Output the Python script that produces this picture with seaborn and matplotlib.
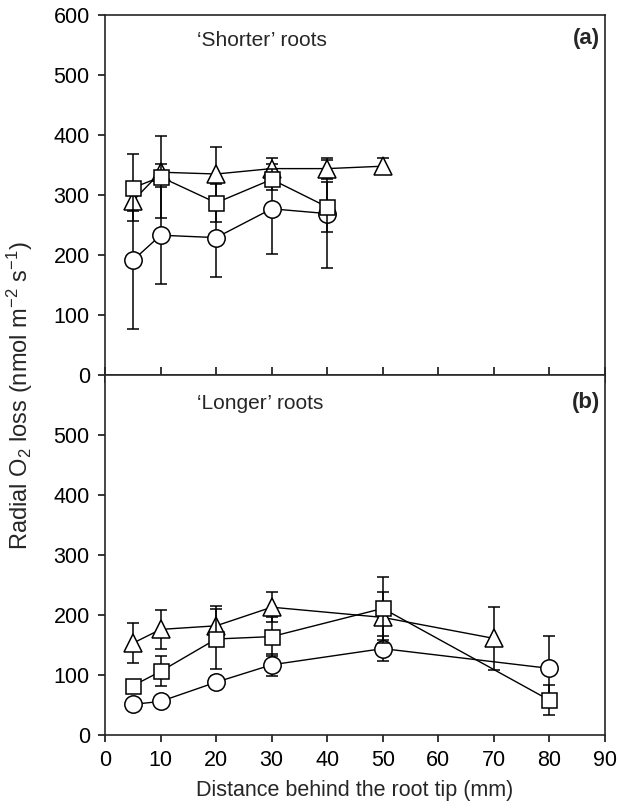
import numpy as np
import matplotlib
matplotlib.use("Agg")
import matplotlib.pyplot as plt
import pandas as pd
import seaborn as sns

# panel (a) 'Shorter' roots
a_circ_x = [5, 10, 20, 30, 40]
a_circ_y = [191, 233, 229, 277, 269]
a_circ_e = [115, 81, 66, 75, 90]
a_sq_x = [5, 10, 20, 30, 40]
a_sq_y = [312, 330, 287, 326, 280]
a_sq_e = [56, 69, 32, 17, 42]
a_tri_x = [5, 10, 20, 30, 40, 50]
a_tri_y = [290, 338, 335, 344, 344, 348]
a_tri_e = [17, 14, 45, 18, 18, 13]

# panel (b) 'Longer' roots
b_circ_x = [5, 10, 20, 30, 50, 80]
b_circ_y = [51, 56, 88, 117, 144, 111]
b_circ_e = [6, 6, 10, 18, 21, 54]
b_sq_x = [5, 10, 20, 30, 50, 80]
b_sq_y = [82, 106, 160, 164, 211, 58]
b_sq_e = [8, 25, 50, 32, 53, 25]
b_tri_x = [5, 10, 20, 30, 50, 70]
b_tri_y = [153, 176, 182, 213, 196, 161]
b_tri_e = [33, 33, 33, 25, 42, 52]

x_ticks = [0, 10, 20, 30, 40, 50, 60, 70, 80, 90]

sns.set_style("ticks")
plt.rcParams['font.family'] = ['Liberation Sans', 'DejaVu Sans']
plt.rcParams['mathtext.fontset'] = 'custom'
plt.rcParams['mathtext.rm'] = 'Liberation Sans'
plt.rcParams['mathtext.it'] = 'Liberation Sans'

FS = 15.5

def make_df(sets):
    rows = []
    for name, xs, ys, es in sets:
        for x, y, e in zip(xs, ys, es):
            rows.append({'series': name, 'x': x, 'y': y, 'err': e})
    return pd.DataFrame(rows)

df_a = make_df([('circle', a_circ_x, a_circ_y, a_circ_e),
                ('triangle', a_tri_x, a_tri_y, a_tri_e),
                ('square', a_sq_x, a_sq_y, a_sq_e)])
df_b = make_df([('circle', b_circ_x, b_circ_y, b_circ_e),
                ('triangle', b_tri_x, b_tri_y, b_tri_e),
                ('square', b_sq_x, b_sq_y, b_sq_e)])

markers = {'circle': 'o', 'triangle': '^', 'square': 's'}
msize = {'circle': 12.5, 'triangle': 12.5, 'square': 10.8}

fig = plt.figure(figsize=(6.18, 8.10), dpi=100)
ax1 = fig.add_axes([0.170, 0.537, 0.809, 0.4445])
ax2 = fig.add_axes([0.170, 0.0926, 0.809, 0.4444])

for ax, df in [(ax1, df_a), (ax2, df_b)]:
    z = 2
    for name in ['circle', 'triangle', 'square']:
        d = df[df.series == name]
        ax.errorbar(d.x, d.y, yerr=d.err, fmt='none', ecolor='black',
                    elinewidth=1.1, capsize=4.6, capthick=1.1, zorder=z)
        sns.lineplot(data=d, x='x', y='y', ax=ax, color='black', lw=1,
                     marker=markers[name], markersize=msize[name],
                     markerfacecolor='white', markeredgecolor='black',
                     markeredgewidth=1.1, zorder=z + 0.5, legend=False)
        z += 1
    ax.set_xlim(0, 90)
    ax.set_ylim(0, 600)
    ax.set_xticks(x_ticks)
    ax.set_xlabel('')
    ax.set_ylabel('')
    for s in ax.spines.values():
        s.set_linewidth(1.2)
        s.set_visible(True)
    ax.tick_params(axis='both', labelsize=FS, width=1.1, length=5,
                   direction='out', colors='black', pad=6)

ax1.set_yticks([0, 100, 200, 300, 400, 500, 600])
ax1.tick_params(axis='x', direction='inout', length=11, labelbottom=False)
ax2.set_yticks([0, 100, 200, 300, 400, 500])

ax1.text(0.184, 0.93, '\u2018Shorter\u2019 roots', transform=ax1.transAxes,
         fontsize=FS - 0.5, va='center', ha='left')
ax1.text(0.99, 0.935, '(a)', transform=ax1.transAxes, fontsize=FS + 0.5,
         fontweight='bold', va='center', ha='right')
ax2.text(0.184, 0.922, '\u2018Longer\u2019 roots', transform=ax2.transAxes,
         fontsize=FS - 0.5, va='center', ha='left')
ax2.text(0.99, 0.925, '(b)', transform=ax2.transAxes, fontsize=FS + 0.5,
         fontweight='bold', va='center', ha='right')

ax2.set_xlabel('Distance behind the root tip (mm)', fontsize=FS, labelpad=6)
fig.text(0.032, 0.511, r'Radial O$_2$ loss (nmol m$^{-2}$ s$^{-1}$)',
         rotation=90, va='center', ha='center', fontsize=FS + 1.5)

fig.savefig('out.png', dpi=100, facecolor='white')
